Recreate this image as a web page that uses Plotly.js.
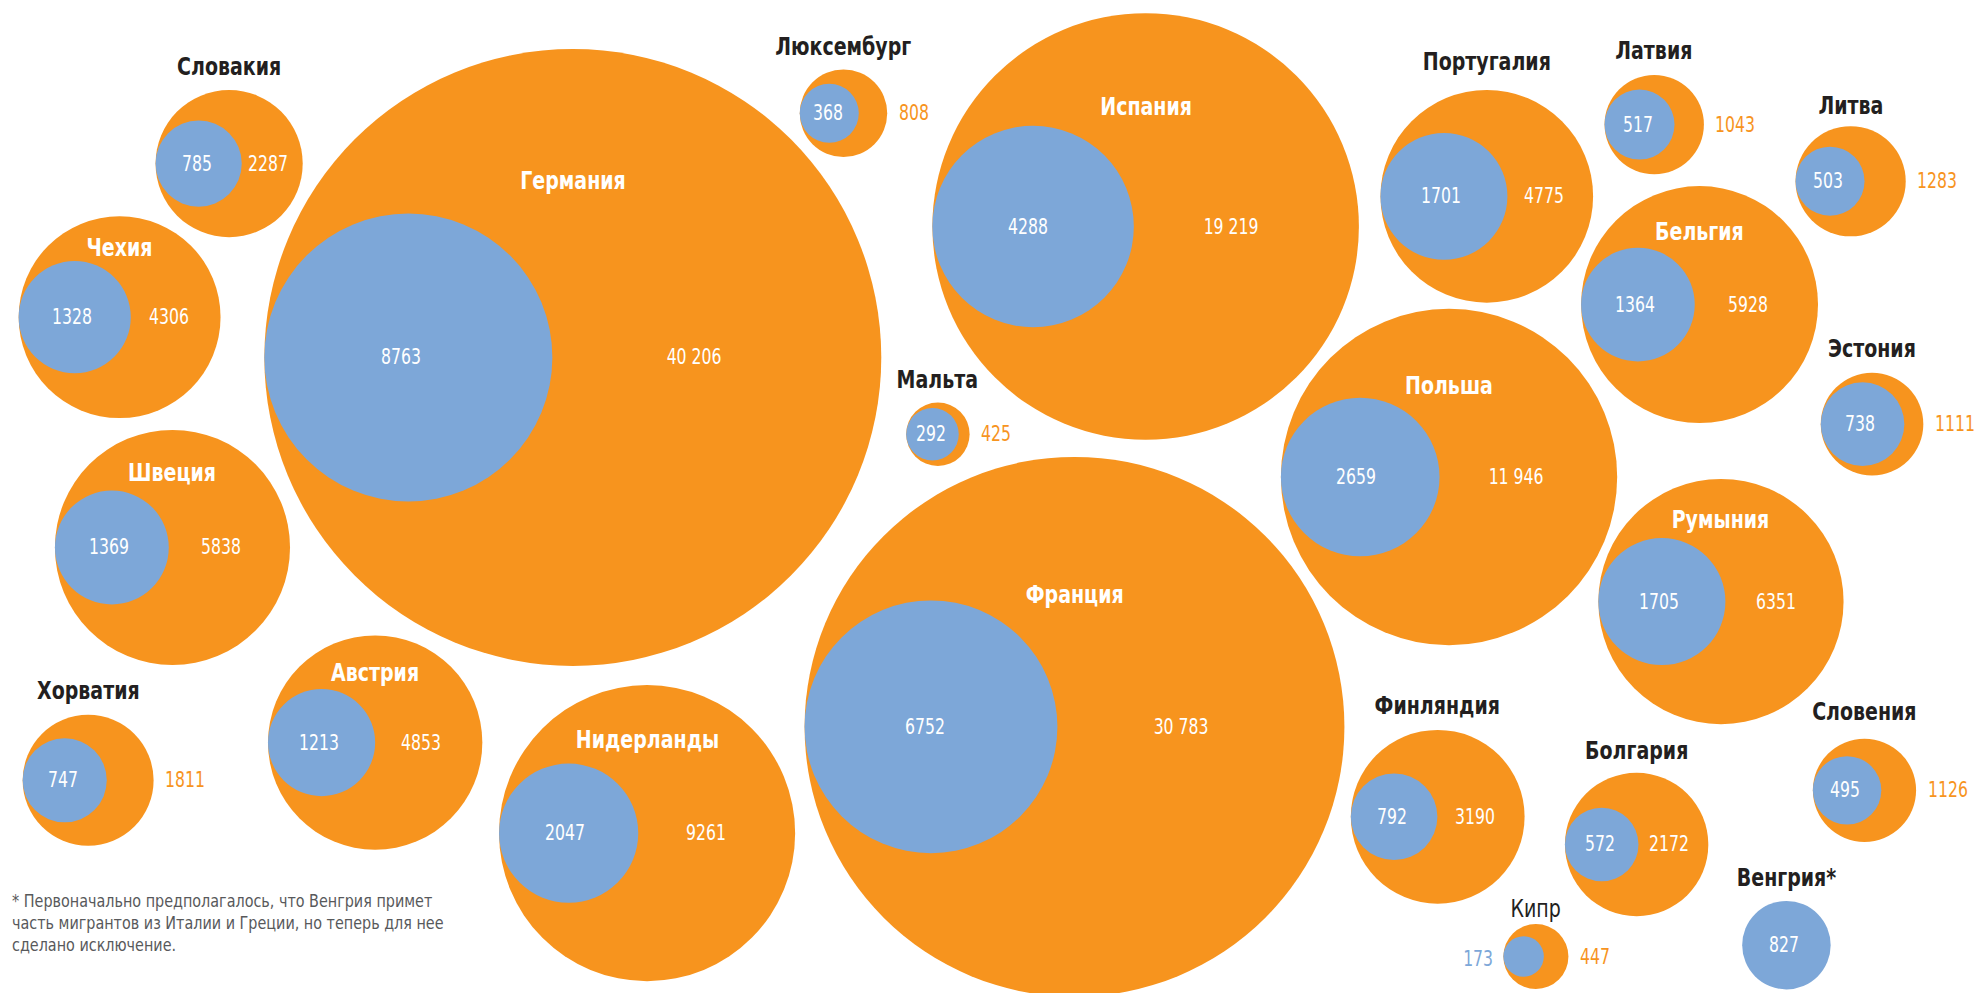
<!DOCTYPE html>
<html>
<head>
<meta charset="utf-8">
<script src="https://cdn.plot.ly/plotly-3.0.1.min.js"></script>
<style>
  html, body { margin: 0; padding: 0; background: #ffffff; }
  #chart { width: 1974px; height: 993px; }
</style>
</head>
<body>
<div id="chart"></div>
<script>
// ---------- DATA ----------
const countries = ["Словакия", "Чехия", "Германия", "Люксембург", "Мальта", "Испания", "Франция",
  "Португалия", "Латвия", "Литва", "Бельгия", "Польша", "Эстония", "Румыния", "Финляндия",
  "Болгария", "Словения", "Кипр", "Венгрия*", "Хорватия", "Австрия", "Нидерланды", "Швеция"];
const totalValues = [2287, 4306, 40206, 808, 425, 19219, 30783,
  4775, 1043, 1283, 5928, 11946, 1111, 6351, 3190,
  2172, 1126, 447, null, 1811, 4853, 9261, 5838];
const innerValues = [785, 1328, 8763, 368, 292, 4288, 6752,
  1701, 517, 503, 1364, 2659, 738, 1705, 792,
  572, 495, 173, 827, 747, 1213, 2047, 1369];
const footnote = "* Первоначально предполагалось, что Венгрия примет<br>часть мигрантов из Италии и Греции, но теперь для нее<br>сделано исключение.";

// ---------- LAYOUT (bubble placement, in reference units 1568 x 789) ----------
const centerX = [182, 95, 455, 670, 745, 910, 853.5, 1181, 1314, 1470, 1350, 1151, 1487, 1367, 1142,
  1300, 1481, 1220, 1419, 70, 298, 514, 137];
const centerY = [130, 252, 284, 90, 345, 180, 577.5, 156, 99, 144, 242, 379, 337, 478, 649,
  671, 628, 760, 751, 620, 590, 662, 435];
// label inside the bubble: y in reference units; null = label above the bubble
const insideLabelY = [null, 197, 144, null, null, 85, 473, null, null, null, 184, 307, null, 413, null,
  null, null, null, null, null, 535, 588, 376];
// gap between the top of the bubble and a label placed above it (reference units)
const aboveGap = [18, 0, 0, 18, 18, 0, 0, 22, 19, 16, 0, 0, 19, 0, 19, 17, 21, 12, 18, 19, 0, 0, 0];
const lightLabel = countries.map(c => c === "Кипр");

// ---------- STYLE ----------
const ORANGE = "#F7941E";
const BLUE = "#7DA7D8";
const DARK = "#231F20";
const NAME_FONT = "'Liberation Sans Narrow', 'DejaVu Sans Condensed', 'Roboto Condensed', Roboto, sans-serif";
const NUM_FONT = NAME_FONT;
const NAME_SCALE = 0.88, NUM_SCALE = 0.83, NOTE_SCALE = 0.94;
const OUT_GAP = 7.5;

const W = 1974, H = 993;
const XR = 1568, YR = 789;
const PX = W / XR;            // pixels per reference unit
const K = 1.222;              // reference units of radius per sqrt(value)
const KPX = K * PX;           // pixel radius per sqrt(value)
const SIZEREF = 1 / (2 * KPX * KPX);  // plotly 'area' sizemode: radius = sqrt(size/2/sizeref)

function rU(v) { return K * Math.sqrt(v); }
function fmt(n) {
  const s = String(n);
  return n >= 10000 ? s.replace(/\B(?=(\d{3})+(?!\d))/g, " ") : s;
}

// outer (orange) bubbles
const oIdx = countries.map((c, i) => i).filter(i => totalValues[i] != null);
const outerTrace = {
  type: "scatter", mode: "markers", hoverinfo: "skip",
  x: oIdx.map(i => centerX[i]), y: oIdx.map(i => centerY[i]),
  marker: { size: oIdx.map(i => totalValues[i]), sizemode: "area", sizeref: SIZEREF,
    color: ORANGE, line: { width: 0 }, opacity: 1 }
};
// inner (blue) bubbles, tangent to the left side of the outer bubble
function innerCx(i) {
  if (totalValues[i] == null) return centerX[i];
  return centerX[i] - rU(totalValues[i]) + rU(innerValues[i]);
}
const innerTrace = {
  type: "scatter", mode: "markers", hoverinfo: "skip",
  x: countries.map((c, i) => innerCx(i)), y: centerY,
  marker: { size: innerValues, sizemode: "area", sizeref: SIZEREF,
    color: BLUE, line: { width: 0 }, opacity: 1 }
};

const annotations = [];
const annScale = [];
countries.forEach((name, i) => {
  const R = totalValues[i] != null ? rU(totalValues[i]) : rU(innerValues[i]);
  const inside = insideLabelY[i] != null;
  // country name
  annotations.push({
    x: centerX[i], y: inside ? insideLabelY[i] : centerY[i] - R - aboveGap[i],
    text: name, showarrow: false, xanchor: "center", yanchor: "middle",
    font: { family: NAME_FONT, size: 24, color: inside ? "#ffffff" : DARK, weight: lightLabel[i] ? 400 : 700 }
  });
  annScale.push(NAME_SCALE);
  // inner value
  const r = rU(innerValues[i]);
  const icx = innerCx(i);
  if (innerValues[i] < 200) {
    annotations.push({
      x: icx - r - 7, y: centerY[i] + 2, text: fmt(innerValues[i]), showarrow: false,
      xanchor: "right", yanchor: "middle",
      font: { family: NUM_FONT, size: 21, color: BLUE }
    });
  } else {
    annotations.push({
      x: icx - r * 0.05, y: centerY[i], text: fmt(innerValues[i]), showarrow: false,
      xanchor: "center", yanchor: "middle",
      font: { family: NUM_FONT, size: 21, color: "#ffffff" }
    });
  }
  annScale.push(NUM_SCALE);
  // total value
  if (totalValues[i] != null) {
    if (totalValues[i] < 2000) {
      annotations.push({
        x: centerX[i] + R + OUT_GAP, y: centerY[i], text: fmt(totalValues[i]), showarrow: false,
        xanchor: "left", yanchor: "middle",
        font: { family: NUM_FONT, size: 21, color: ORANGE }
      });
    } else {
      const innerRight = icx + r, outerRight = centerX[i] + R;
      annotations.push({
        x: innerRight + 0.43 * (outerRight - innerRight), y: centerY[i], text: fmt(totalValues[i]),
        showarrow: false, xanchor: "center", yanchor: "middle",
        font: { family: NUM_FONT, size: 21, color: "#ffffff" }
      });
    }
    annScale.push(NUM_SCALE);
  }
});

annotations.push({
  x: 8, y: 733, text: footnote, showarrow: false, xanchor: "left", yanchor: "middle", align: "left",
  font: { family: NUM_FONT, size: 17, color: "#58595B" }
});
annScale.push(NOTE_SCALE);

const layout = {
  width: W, height: H,
  margin: { l: 0, r: 0, t: 0, b: 0, pad: 0 },
  paper_bgcolor: "#ffffff", plot_bgcolor: "#ffffff",
  showlegend: false,
  xaxis: { range: [0, XR], visible: false, fixedrange: true },
  yaxis: { range: [YR, 0], visible: false, fixedrange: true },
  annotations: annotations,
  hovermode: false
};

Plotly.newPlot("chart", [outerTrace, innerTrace], layout, { displayModeBar: false, staticPlot: true })
  .then(gd => {
    // condense the lettering horizontally, like the narrow typeface of the original
    gd.querySelectorAll("g.annotation").forEach(g => {
      const idx = +g.getAttribute("data-index");
      const ann = annotations[idx];
      const t = g.querySelector("text.annotation-text");
      if (!ann || !t) return;
      const bb = t.getBBox();
      let ax = bb.x + bb.width / 2;
      if (ann.xanchor === "left") ax = bb.x;
      if (ann.xanchor === "right") ax = bb.x + bb.width;
      const s = annScale[idx];
      t.setAttribute("transform", `translate(${ax},0) scale(${s},1) translate(${-ax},0)`);
    });
  });
</script>
</body>
</html>
